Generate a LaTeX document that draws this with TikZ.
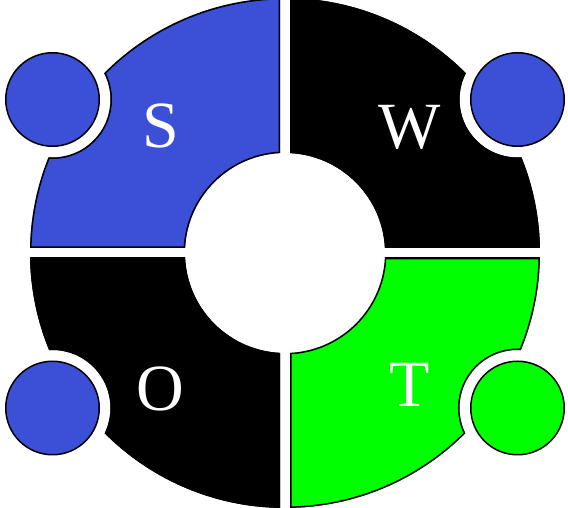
\documentclass[tikz,border=0pt]{standalone}
\usepackage{fontspec}
\setmainfont{Liberation Serif}
\usetikzlibrary{positioning}
\definecolor{swotblue}{HTML}{3B50D6}
\definecolor{swotgreen}{HTML}{00FF00}

% one quarter of the ring: x sign, y sign, notch centre y, colour
\newcommand{\swotpart}[4]{%
  \begin{scope}[shift={(285,255)}, even odd rule]
    \clip (#1*5,#2*5) rectangle (#1*300,#2*300);
    \clip (0,0) circle (255) (0,0) circle (100);
    \clip (-300,-300) rectangle (300,300) (#1*232.5,#3) circle (58);
    \fill[#4] (-300,-300) rectangle (300,300);
    \draw[line width=3pt] (0,0) circle (255) (0,0) circle (100)
      (#1*232.5,#3) circle (58) (#1*5,#2*5) rectangle (#1*300,#2*300);
  \end{scope}}

\begin{document}
\begin{tikzpicture}[x=1pt, y=1pt,
  dot/.style={circle, draw=black, line width=1.5pt, minimum size=93.5pt, inner sep=0pt},
  letter/.style={text=white, font=\fontsize{66}{66}\selectfont, inner sep=0pt}
]
  \useasboundingbox (0,0) rectangle (568,508);

  \swotpart{-1}{1}{153.5}{swotblue}
  \swotpart{1}{1}{153.5}{black}
  \swotpart{-1}{-1}{-155}{black}
  \swotpart{1}{-1}{-155}{swotgreen}

  \node[dot, fill=swotblue] (sdot) at (52.5,408.5) {};
  \node[dot, fill=swotblue] (wdot) at (517.5,408.5) {};
  \node[dot, fill=swotblue] (odot) at (52.5,100) {};
  \node[dot, fill=swotgreen] (tdot) at (517.5,100) {};

  \node[letter] (s) at (160.5,382) {S};
  \node[letter] (w) at (410,381) {W};
  \node[letter] (o) at (160,119.5) {O};
  \node[letter] (t) at (410,123) {T};
\end{tikzpicture}
\end{document}
